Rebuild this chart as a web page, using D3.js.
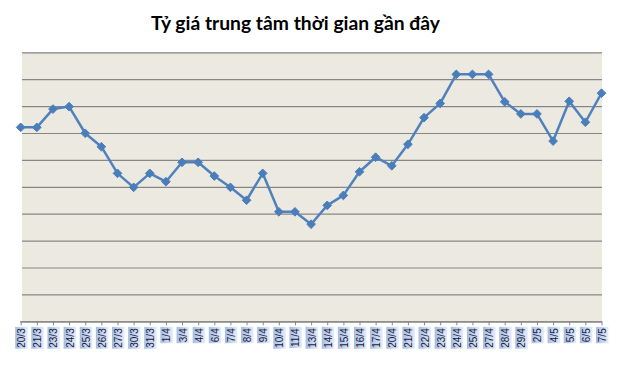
<!DOCTYPE html>
<html>
<head>
<meta charset="utf-8">
<script src="https://cdn.jsdelivr.net/npm/d3@7"></script>
<style>
  html, body { margin: 0; padding: 0; background: #ffffff; }
  svg { display: block; }
</style>
</head>
<body>
<svg id="chart" width="617" height="366"></svg>
<script>
// Date labels (category axis)
const dates = ["20/3","21/3","23/3","24/3","25/3","26/3","27/3","30/3","31/3","1/4","3/4","4/4","6/4","7/4","8/4","9/4","10/4","11/4","13/4",
  "14/4","15/4","16/4","17/4","20/4","21/4","22/4","23/4","24/4","25/4","27/4","28/4","29/4","2/5","4/5","5/5","6/5","7/5"];
// Central rate, read in gridline units (no value axis shown in the reference)
const rates = [7.21,7.21,7.89,7.98,6.99,6.49,5.50,4.98,5.50,5.19,5.91,5.91,5.40,4.98,4.50,5.50,4.07,4.07,3.61,
  4.31,4.68,5.56,6.10,5.78,6.58,7.57,8.10,9.18,9.18,9.18,8.16,7.71,7.71,6.70,8.18,7.40,8.48];
const gridTicks = [0,1,2,3,4,5,6,7,8,9,10];
const title = "Tỷ giá trung tâm thời gian gần đây";

const svg = d3.select("#chart");
const plot = { left: 22, right: 602, top: 52.3, bottom: 321.3 };

const x = d3.scalePoint().domain(dates).range([20.7, 601.5]).padding(0);
const y = d3.scaleLinear().domain([0, 10]).range([plot.bottom, plot.top]);

// gradient for label boxes
const defs = svg.append("defs");
const grad = defs.append("linearGradient").attr("id", "lblGrad")
  .attr("x1", 0).attr("x2", 1).attr("y1", 0).attr("y2", 0);
grad.append("stop").attr("offset", "0%").attr("stop-color", "#a3bce6");
grad.append("stop").attr("offset", "100%").attr("stop-color", "#e6edf8");

// title
svg.append("text")
  .attr("x", 295.5).attr("y", 30)
  .attr("text-anchor", "middle")
  .attr("font-family", "Lato, 'Open Sans', sans-serif")
  .attr("font-weight", "bold")
  .attr("font-size", 19)
  .attr("textLength", 289)
  .attr("lengthAdjust", "spacingAndGlyphs")
  .attr("fill", "#000")
  .text(title);

// plot background
svg.append("rect")
  .attr("x", plot.left).attr("y", plot.top)
  .attr("width", plot.right - plot.left).attr("height", plot.bottom - plot.top)
  .attr("fill", "#eceae0");

// gridlines
const gridG = svg.append("g")
  .attr("transform", `translate(${plot.left},0)`)
  .call(d3.axisLeft(y).tickValues(gridTicks).tickSize(-(plot.right - plot.left)).tickFormat(""));
gridG.select(".domain").remove();
gridG.selectAll(".tick line").attr("stroke", "#868686").attr("stroke-width", 1.2);

// x axis
const xAxis = svg.append("g")
  .attr("transform", `translate(0,${plot.bottom})`)
  .call(d3.axisBottom(x).tickSize(4).tickSizeOuter(0));
xAxis.select(".domain").attr("stroke", "#868686").attr("stroke-width", 1.2)
  .attr("d", `M${plot.left - 2},0.5H${plot.right}`);
xAxis.selectAll(".tick line").attr("stroke", "#868686");
xAxis.selectAll(".tick text")
  .attr("font-family", "'Liberation Sans', Arial, sans-serif")
  .attr("font-size", 10)
  .attr("fill", "#1a1a3a")
  .attr("text-anchor", "end")
  .attr("dy", "0.35em")
  .attr("transform", "translate(0,7) rotate(-90)")
  .attr("x", 0).attr("y", 0.5);
xAxis.selectAll(".tick").each(function() {
  const t = d3.select(this).select("text");
  const bb = t.node().getBBox();
  d3.select(this).insert("rect", "text")
    .attr("transform", "translate(0,7) rotate(-90)")
    .attr("x", bb.x - 1).attr("y", -6)
    .attr("width", bb.width + 2).attr("height", 12.5)
    .attr("fill", "url(#lblGrad)");
});
// gradient direction must be horizontal on screen: redefine rect fill via rotated gradient
grad.attr("gradientTransform", "rotate(90 0.5 0.5)");

// line
const line = d3.line().x((d, i) => x(dates[i])).y(d => y(d));
svg.append("path")
  .datum(rates)
  .attr("d", line)
  .attr("fill", "none")
  .attr("stroke", "#4f81bd")
  .attr("stroke-width", 2.5)
  .attr("stroke-linejoin", "round");

// markers
const diamond = d3.symbol().type(d3.symbolDiamond2).size(48);
svg.append("g").selectAll("path")
  .data(rates)
  .join("path")
  .attr("d", diamond)
  .attr("transform", (d, i) => `translate(${x(dates[i])},${y(d)})`)
  .attr("fill", "#4a7ebb")
  .attr("stroke", "#4a7ebb")
  .attr("stroke-width", 1);
</script>
</body>
</html>
